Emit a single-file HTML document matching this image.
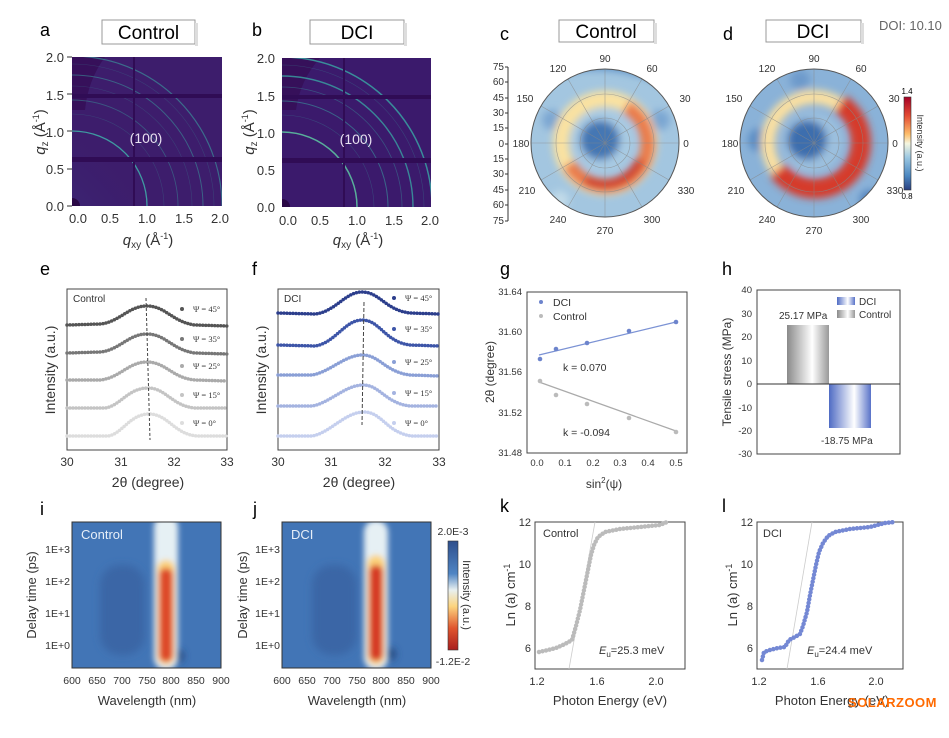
<!DOCTYPE html>
<html><head><meta charset="utf-8"><style>
html,body{margin:0;padding:0;background:#fff;}
svg{display:block;font-family:"Liberation Sans",Arial,sans-serif;}
</style></head><body>
<svg width="949" height="738" viewBox="0 0 949 738" xmlns="http://www.w3.org/2000/svg">
<defs>
<filter id="bl" x="-20%" y="-20%" width="140%" height="140%"><feGaussianBlur stdDeviation="4"/></filter>
<filter id="bl2" x="-50%" y="-50%" width="200%" height="200%"><feGaussianBlur stdDeviation="3"/></filter>
<clipPath id="cc"><circle cx="605" cy="143" r="74"/></clipPath>
<clipPath id="cd"><circle cx="814" cy="143" r="74"/></clipPath>
<clipPath id="ca"><rect x="72" y="57" width="150" height="149"/></clipPath>
<clipPath id="cb"><rect x="282" y="58" width="149" height="149"/></clipPath>
<clipPath id="ci"><rect x="72" y="522" width="149" height="146"/></clipPath>
<clipPath id="cj"><rect x="282" y="522" width="149" height="146"/></clipPath>
<radialGradient id="glowa" cx="0" cy="1" r="1"><stop offset="0" stop-color="#3c5a98"/><stop offset="0.6" stop-color="#3a2f7c"/><stop offset="1" stop-color="#3b1f6e" stop-opacity="0"/></radialGradient>
<linearGradient id="cbar" x1="0" y1="0" x2="0" y2="1"><stop offset="0" stop-color="#a50026"/><stop offset="0.2" stop-color="#e34a33"/><stop offset="0.4" stop-color="#fdbe6b"/><stop offset="0.5" stop-color="#f5f6e0"/><stop offset="0.65" stop-color="#9cc8e2"/><stop offset="0.85" stop-color="#4a86c0"/><stop offset="1" stop-color="#283f80"/></linearGradient>
<linearGradient id="cbar2" x1="0" y1="0" x2="0" y2="1"><stop offset="0" stop-color="#2e4f8c"/><stop offset="0.3" stop-color="#4f85c4"/><stop offset="0.45" stop-color="#e8f0f0"/><stop offset="0.6" stop-color="#fcd47e"/><stop offset="0.8" stop-color="#e0552e"/><stop offset="1" stop-color="#a81e1e"/></linearGradient>
<linearGradient id="gbar" x1="0" y1="0" x2="1" y2="0"><stop offset="0" stop-color="#8a8a8a"/><stop offset="0.6" stop-color="#fff"/><stop offset="1" stop-color="#999"/></linearGradient>
<linearGradient id="bbar" x1="0" y1="0" x2="1" y2="0"><stop offset="0" stop-color="#4f6bc4"/><stop offset="0.6" stop-color="#fff"/><stop offset="1" stop-color="#5872c8"/></linearGradient>
</defs>

<!-- ===== a ===== -->
<text x="40" y="36" font-size="18">a</text>
<rect x="102" y="20" width="93" height="24" fill="#fff" stroke="#999" stroke-width="1"/>
<rect x="195" y="23" width="3" height="23" fill="#ddd"/>
<text x="148.5" y="39" font-size="19" text-anchor="middle">Control</text>
<g clip-path="url(#ca)">
<rect x="72" y="57" width="150" height="149" fill="#3d1d6c"/>
<circle cx="72" cy="206" r="110" fill="url(#glowa)" opacity="0.7"/>
<path d="M72 57 L105 57 Q88 80 85 110 L72 110Z" fill="#36105a"/>
<g fill="none" stroke="#3a8f98">
<circle cx="72" cy="206" r="75" stroke-width="1.3" stroke="#3fb0aa" opacity="0.85"/>
<circle cx="72" cy="206" r="106" stroke-width="0.9" opacity="0.5"/>
<circle cx="72" cy="206" r="131" stroke-width="1" opacity="0.6"/>
<circle cx="72" cy="206" r="150" stroke-width="1.2" opacity="0.7"/>
<circle cx="72" cy="206" r="92" stroke-width="0.6" opacity="0.3"/>
<circle cx="72" cy="206" r="120" stroke-width="0.6" opacity="0.3"/>
<circle cx="72" cy="206" r="142" stroke-width="0.6" opacity="0.3"/>
</g>
<rect x="72" y="157" width="150" height="5" fill="#300c55"/>
<rect x="72" y="94" width="150" height="4" fill="#300c55"/>
<rect x="133" y="57" width="2" height="149" fill="#300c55"/>
<circle cx="72" cy="206" r="8" fill="#2a0845"/>
</g>
<text x="146" y="143" font-size="14" fill="#e8e0f0" text-anchor="middle">(100)</text>
<g font-size="13" fill="#333" text-anchor="end">
<text x="64" y="62">2.0</text><text x="64" y="100">1.5</text><text x="64" y="137">1.0</text><text x="64" y="174">0.5</text><text x="64" y="211">0.0</text></g>
<g stroke="#333"><line x1="67" y1="57" x2="72" y2="57"/><line x1="67" y1="94" x2="72" y2="94"/><line x1="67" y1="131" x2="72" y2="131"/><line x1="67" y1="169" x2="72" y2="169"/><line x1="67" y1="206" x2="72" y2="206"/></g>
<g font-size="13" fill="#333" text-anchor="middle">
<text x="78" y="223">0.0</text><text x="110" y="223">0.5</text><text x="147" y="223">1.0</text><text x="184" y="223">1.5</text><text x="220" y="223">2.0</text></g>
<text x="148" y="245" font-size="15" text-anchor="middle" fill="#333"><tspan font-style="italic">q</tspan><tspan font-size="10" dy="3">xy</tspan><tspan dy="-3"> (Å</tspan><tspan font-size="9" dy="-6">-1</tspan><tspan dy="6">)</tspan></text>
<text transform="translate(45,132) rotate(-90)" font-size="15" text-anchor="middle" fill="#333"><tspan font-style="italic">q</tspan><tspan font-size="10" dy="3">z</tspan><tspan dy="-3"> (Å</tspan><tspan font-size="9" dy="-6">-1</tspan><tspan dy="6">)</tspan></text>

<!-- ===== b ===== -->
<text x="252" y="36" font-size="18">b</text>
<rect x="310" y="20" width="94" height="24" fill="#fff" stroke="#999"/>
<rect x="404" y="23" width="3" height="23" fill="#ddd"/>
<text x="357" y="39" font-size="19" text-anchor="middle">DCI</text>
<g clip-path="url(#cb)">
<rect x="282" y="58" width="149" height="149" fill="#3b1a6c"/>
<path d="M282 58 L320 58 Q300 80 296 110 L282 110Z" fill="#36105a"/>
<g fill="none" stroke="#3aa2a2">
<circle cx="282" cy="207" r="75" stroke-width="1.5" stroke="#5cc0a0" opacity="0.9"/>
<circle cx="282" cy="207" r="106" stroke-width="1" opacity="0.55"/>
<circle cx="282" cy="207" r="131" stroke-width="1.4" opacity="0.8"/>
<circle cx="282" cy="207" r="150" stroke-width="1.5" opacity="0.85"/>
<circle cx="282" cy="207" r="92" stroke-width="0.6" opacity="0.3"/>
<circle cx="282" cy="207" r="120" stroke-width="0.8" opacity="0.4"/>
<circle cx="282" cy="207" r="142" stroke-width="0.6" opacity="0.3"/>
</g>
<rect x="282" y="158" width="149" height="5" fill="#300c55"/>
<rect x="282" y="95" width="149" height="4" fill="#300c55"/>
<rect x="343" y="58" width="2" height="149" fill="#300c55"/>
<circle cx="282" cy="207" r="8" fill="#2a0845"/>
</g>
<text x="356" y="144" font-size="14" fill="#e8e0f0" text-anchor="middle">(100)</text>
<g font-size="13" fill="#333" text-anchor="end">
<text x="275" y="63">2.0</text><text x="275" y="101">1.5</text><text x="275" y="138">1.0</text><text x="275" y="175">0.5</text><text x="275" y="212">0.0</text></g>
<g font-size="13" fill="#333" text-anchor="middle">
<text x="288" y="225">0.0</text><text x="320" y="225">0.5</text><text x="357" y="225">1.0</text><text x="394" y="225">1.5</text><text x="430" y="225">2.0</text></g>
<text x="358" y="245" font-size="15" text-anchor="middle" fill="#333"><tspan font-style="italic">q</tspan><tspan font-size="10" dy="3">xy</tspan><tspan dy="-3"> (Å</tspan><tspan font-size="9" dy="-6">-1</tspan><tspan dy="6">)</tspan></text>
<text transform="translate(254,132) rotate(-90)" font-size="15" text-anchor="middle" fill="#333"><tspan font-style="italic">q</tspan><tspan font-size="10" dy="3">z</tspan><tspan dy="-3"> (Å</tspan><tspan font-size="9" dy="-6">-1</tspan><tspan dy="6">)</tspan></text>

<!-- ===== c ===== -->
<text x="500" y="40" font-size="18">c</text>
<rect x="559" y="20" width="95" height="22" fill="#fff" stroke="#999"/>
<rect x="654" y="23" width="3" height="21" fill="#ddd"/>
<text x="606" y="38" font-size="19" text-anchor="middle">Control</text>
<g clip-path="url(#cc)">
<circle cx="605" cy="143" r="74" fill="#a3c6e0"/>
<g filter="url(#bl)">
<path d="M540 80 Q605 55 675 90 L680 60 L530 60Z" fill="#5a8fc6"/>
<circle cx="552" cy="120" r="10" fill="#7aa6d2"/><circle cx="660" cy="120" r="10" fill="#7aa6d2"/><circle cx="560" cy="200" r="9" fill="#c2dbe9"/>
<circle cx="605" cy="143" r="44" fill="none" stroke="#fbe2a0" stroke-width="16"/>
<path d="M626 107 A42 42 0 1 1 569 164" fill="none" stroke="#eb7a48" stroke-width="14"/>
<path d="M640 160 A40 40 0 0 1 585 180" fill="none" stroke="#cf3a2c" stroke-width="9"/>
<circle cx="603" cy="140" r="30" fill="#a9cbe3"/>
<circle cx="600" cy="140" r="20" fill="#4477b4"/>
</g>
<g fill="none" stroke="#888" stroke-width="0.6" opacity="0.7">
<circle cx="605" cy="143" r="25"/><circle cx="605" cy="143" r="49"/>
<line x1="531" y1="143" x2="679" y2="143"/><line x1="605" y1="69" x2="605" y2="217"/>
<line x1="541" y1="106" x2="669" y2="180"/><line x1="541" y1="180" x2="669" y2="106"/>
<line x1="568" y1="79" x2="642" y2="207"/><line x1="568" y1="207" x2="642" y2="79"/>
</g>
</g>
<circle cx="605" cy="143" r="74" fill="none" stroke="#555" stroke-width="1"/>
<g font-size="10" fill="#333" text-anchor="middle">
<text x="605" y="62">90</text><text x="652" y="72">60</text><text x="685" y="102">30</text><text x="686" y="147">0</text><text x="686" y="194">330</text><text x="652" y="223">300</text><text x="605" y="234">270</text><text x="558" y="223">240</text><text x="527" y="194">210</text><text x="521" y="147">180</text><text x="525" y="102">150</text><text x="558" y="72">120</text></g>
<line x1="508" y1="67" x2="508" y2="221" stroke="#333"/>
<g font-size="10" fill="#333" text-anchor="end">
<text x="504" y="70">75</text><text x="504" y="85">60</text><text x="504" y="101">45</text><text x="504" y="116">30</text><text x="504" y="131">15</text><text x="504" y="147">0</text><text x="504" y="162">15</text><text x="504" y="177">30</text><text x="504" y="193">45</text><text x="504" y="208">60</text><text x="504" y="224">75</text></g>
<g stroke="#333"><line x1="505" y1="67" x2="508" y2="67"/><line x1="505" y1="82" x2="508" y2="82"/><line x1="505" y1="98" x2="508" y2="98"/><line x1="505" y1="113" x2="508" y2="113"/><line x1="505" y1="128" x2="508" y2="128"/><line x1="505" y1="144" x2="508" y2="144"/><line x1="505" y1="159" x2="508" y2="159"/><line x1="505" y1="174" x2="508" y2="174"/><line x1="505" y1="190" x2="508" y2="190"/><line x1="505" y1="205" x2="508" y2="205"/><line x1="505" y1="221" x2="508" y2="221"/></g>

<!-- ===== d ===== -->
<text x="723" y="40" font-size="18">d</text>
<rect x="766" y="20" width="95" height="22" fill="#fff" stroke="#999"/>
<rect x="861" y="23" width="3" height="21" fill="#ddd"/>
<text x="813" y="38" font-size="19" text-anchor="middle">DCI</text>
<text x="879" y="30" font-size="13" fill="#666">DOI: 10.10</text>
<g clip-path="url(#cd)">
<circle cx="814" cy="143" r="74" fill="#8ab2d8"/>
<g filter="url(#bl)">
<circle cx="760" cy="140" r="12" fill="#5a8cc4"/><circle cx="800" cy="80" r="10" fill="#6d9acb"/><circle cx="870" cy="200" r="10" fill="#4f80bd"/>
<circle cx="814" cy="143" r="46" fill="none" stroke="#fbe0a0" stroke-width="14"/>
<path d="M840 104 A46 46 0 1 1 778 170" fill="none" stroke="#d63b2c" stroke-width="20"/>
<circle cx="812" cy="142" r="31" fill="#9cc0de"/>
<circle cx="807" cy="140" r="20" fill="#3d6eae"/>
</g>
<g fill="none" stroke="#888" stroke-width="0.6" opacity="0.7">
<circle cx="814" cy="143" r="25"/><circle cx="814" cy="143" r="49"/>
<line x1="740" y1="143" x2="888" y2="143"/><line x1="814" y1="69" x2="814" y2="217"/>
<line x1="750" y1="106" x2="878" y2="180"/><line x1="750" y1="180" x2="878" y2="106"/>
<line x1="777" y1="79" x2="851" y2="207"/><line x1="777" y1="207" x2="851" y2="79"/>
</g>
</g>
<circle cx="814" cy="143" r="74" fill="none" stroke="#555" stroke-width="1"/>
<g font-size="10" fill="#333" text-anchor="middle">
<text x="814" y="62">90</text><text x="861" y="72">60</text><text x="894" y="102">30</text><text x="895" y="147">0</text><text x="895" y="194">330</text><text x="861" y="223">300</text><text x="814" y="234">270</text><text x="767" y="223">240</text><text x="736" y="194">210</text><text x="730" y="147">180</text><text x="734" y="102">150</text><text x="767" y="72">120</text></g>
<rect x="904" y="97" width="7" height="93" fill="url(#cbar)" stroke="#333" stroke-width="0.6"/>
<text x="907" y="94" font-size="8" text-anchor="middle">1.4</text>
<text x="907" y="199" font-size="8" text-anchor="middle">0.8</text>
<text transform="translate(917,143) rotate(90)" font-size="9" text-anchor="middle" fill="#333">Intensity (a.u.)</text>

<!-- ===== e ===== -->
<text x="40" y="275" font-size="18">e</text>
<rect x="67" y="289" width="160" height="161" fill="none" stroke="#444" stroke-width="1"/>
<text x="73" y="302" font-size="10" fill="#333">Control</text>
<g fill="none" stroke-width="3.5" stroke-linecap="round" stroke-dasharray="0 3">
<path d="M67 325 L100 324 C120 322 128 306 147 306 C166 306 172 322 195 325 L227 326" stroke="#555"/>
<path d="M67 353 L100 352 C120 350 128 334 147 334 C166 334 172 350 195 353 L227 354" stroke="#777"/>
<path d="M67 380 L100 380 C120 378 128 362 147 362 C166 362 172 378 195 380 L227 381" stroke="#aaa"/>
<path d="M67 408 L105 408 C120 406 128 388 148 388 C166 388 172 406 195 408 L227 408" stroke="#c4c4c4"/>
<path d="M67 436 L108 436 C122 434 130 414 149 414 C168 414 174 434 197 436 L227 436" stroke="#ddd"/>
</g>
<line x1="146" y1="298" x2="150" y2="440" stroke="#444" stroke-dasharray="3 2"/>
<g font-size="8.5" fill="#333" font-family="Liberation Serif,serif">
<circle cx="182" cy="309" r="2" fill="#555"/><text x="193" y="312">Ψ = 45°</text>
<circle cx="182" cy="339" r="2" fill="#777"/><text x="193" y="342">Ψ = 35°</text>
<circle cx="182" cy="366" r="2" fill="#aaa"/><text x="193" y="369">Ψ = 25°</text>
<circle cx="182" cy="395" r="2" fill="#c4c4c4"/><text x="193" y="398">Ψ = 15°</text>
<circle cx="182" cy="423" r="2" fill="#ddd"/><text x="193" y="426">Ψ = 0°</text></g>
<g font-size="12" fill="#333" text-anchor="middle"><text x="67" y="466">30</text><text x="121" y="466">31</text><text x="174" y="466">32</text><text x="227" y="466">33</text></g>
<text x="148" y="487" font-size="14" text-anchor="middle" fill="#333">2θ (degree)</text>
<text transform="translate(55,370) rotate(-90)" font-size="14" text-anchor="middle" fill="#333">Intensity (a.u.)</text>

<!-- ===== f ===== -->
<text x="252" y="275" font-size="18">f</text>
<rect x="278" y="289" width="161" height="161" fill="none" stroke="#444"/>
<text x="284" y="302" font-size="10" fill="#333">DCI</text>
<g fill="none" stroke-width="3.5" stroke-linecap="round" stroke-dasharray="0 3">
<path d="M278 313 L315 314 C335 312 345 292 362 292 C380 292 385 310 410 313 L439 314" stroke="#2c3e8c"/>
<path d="M278 345 L315 346 C335 343 345 320 362 320 C380 320 385 342 410 345 L439 346" stroke="#3d55a8"/>
<path d="M278 375 L312 375 C330 372 345 355 362 355 C380 355 385 372 410 375 L439 376" stroke="#8a9fd6"/>
<path d="M278 406 L312 406 C330 403 345 385 363 385 C380 385 385 403 410 406 L439 406" stroke="#a4b3e0"/>
<path d="M278 436 L312 436 C330 433 345 412 364 412 C382 412 387 433 412 436 L439 436" stroke="#c5cfee"/>
</g>
<line x1="364" y1="302" x2="362" y2="425" stroke="#444" stroke-dasharray="4 2"/>
<g font-size="8.5" fill="#333" font-family="Liberation Serif,serif">
<circle cx="394" cy="298" r="2" fill="#2c3e8c"/><text x="405" y="301">Ψ = 45°</text>
<circle cx="394" cy="329" r="2" fill="#3d55a8"/><text x="405" y="332">Ψ = 35°</text>
<circle cx="394" cy="362" r="2" fill="#8a9fd6"/><text x="405" y="365">Ψ = 25°</text>
<circle cx="394" cy="393" r="2" fill="#a4b3e0"/><text x="405" y="396">Ψ = 15°</text>
<circle cx="394" cy="423" r="2" fill="#c5cfee"/><text x="405" y="426">Ψ = 0°</text></g>
<g font-size="12" fill="#333" text-anchor="middle"><text x="278" y="466">30</text><text x="331" y="466">31</text><text x="385" y="466">32</text><text x="439" y="466">33</text></g>
<text x="359" y="487" font-size="14" text-anchor="middle" fill="#333">2θ (degree)</text>
<text transform="translate(266,370) rotate(-90)" font-size="14" text-anchor="middle" fill="#333">Intensity (a.u.)</text>

<!-- ===== g ===== -->
<text x="500" y="275" font-size="18">g</text>
<rect x="527" y="292" width="160" height="161" fill="none" stroke="#444"/>
<g font-size="9.5" fill="#333" text-anchor="end"><text x="522" y="295">31.64</text><text x="522" y="335">31.60</text><text x="522" y="375">31.56</text><text x="522" y="416">31.52</text><text x="522" y="456">31.48</text></g>
<g font-size="9.5" fill="#333" text-anchor="middle"><text x="537" y="466">0.0</text><text x="565" y="466">0.1</text><text x="593" y="466">0.2</text><text x="620" y="466">0.3</text><text x="648" y="466">0.4</text><text x="676" y="466">0.5</text></g>
<text x="604" y="488" font-size="12" text-anchor="middle" fill="#333">sin<tspan font-size="8" dy="-5">2</tspan><tspan dy="5">(ψ)</tspan></text>
<text transform="translate(494,372) rotate(-90)" font-size="12" text-anchor="middle" fill="#333">2θ (degree)</text>
<line x1="539" y1="355" x2="676" y2="322" stroke="#7b92d4" stroke-width="1.2"/>
<line x1="539" y1="382" x2="676" y2="431" stroke="#aaa" stroke-width="1.2"/>
<g fill="#6d84cc"><circle cx="540" cy="359" r="2.3"/><circle cx="556" cy="349" r="2.3"/><circle cx="587" cy="343" r="2.3"/><circle cx="629" cy="331" r="2.3"/><circle cx="676" cy="322" r="2.3"/></g>
<g fill="#bbb"><circle cx="540" cy="381" r="2.3"/><circle cx="556" cy="395" r="2.3"/><circle cx="587" cy="404" r="2.3"/><circle cx="629" cy="418" r="2.3"/><circle cx="676" cy="432" r="2.3"/></g>
<circle cx="541" cy="302" r="2" fill="#6d84cc"/><text x="553" y="306" font-size="10.5" fill="#333">DCI</text>
<circle cx="541" cy="316" r="2" fill="#bbb"/><text x="553" y="320" font-size="10.5" fill="#333">Control</text>
<text x="563" y="371" font-size="10.5" fill="#333">k = 0.070</text>
<text x="563" y="436" font-size="10.5" fill="#333">k = -0.094</text>

<!-- ===== h ===== -->
<text x="722" y="275" font-size="18">h</text>
<rect x="757" y="290" width="143" height="164" fill="none" stroke="#444"/>
<g font-size="9.5" fill="#333" text-anchor="end"><text x="752" y="293">40</text><text x="752" y="317">30</text><text x="752" y="340">20</text><text x="752" y="364">10</text><text x="752" y="387">0</text><text x="752" y="411">-10</text><text x="752" y="434">-20</text><text x="752" y="457">-30</text></g>
<text transform="translate(731,372) rotate(-90)" font-size="12" text-anchor="middle" fill="#333">Tensile stress (MPa)</text>
<rect x="787" y="325" width="42" height="59" fill="url(#gbar)"/>
<rect x="829" y="384" width="42" height="44" fill="url(#bbar)"/>
<line x1="757" y1="384" x2="900" y2="384" stroke="#333" stroke-width="1"/>
<text x="779" y="319" font-size="10" fill="#333">25.17 MPa</text>
<text x="821" y="444" font-size="10" fill="#333">-18.75 MPa</text>
<rect x="837" y="297" width="18" height="8" fill="url(#bbar)"/><text x="859" y="305" font-size="10" fill="#333">DCI</text>
<rect x="837" y="310" width="18" height="8" fill="url(#gbar)"/><text x="859" y="318" font-size="10" fill="#333">Control</text>

<!-- ===== i ===== -->
<text x="40" y="515" font-size="18">i</text>
<g clip-path="url(#ci)">
<rect x="72" y="522" width="149" height="146" fill="#4275b6"/>
<g filter="url(#bl)"><rect x="100" y="565" width="45" height="90" rx="20" fill="#3a66a6"/><circle cx="178" cy="656" r="6" fill="#23457a"/></g>
<g filter="url(#bl2)"><rect x="154" y="515" width="24" height="155" rx="12" fill="#e6f0f4"/><rect x="157" y="560" width="18" height="105" rx="9" fill="#fbd27a"/><rect x="159" y="568" width="14" height="94" rx="7" fill="#dd4a2a"/></g>
</g>
<rect x="72" y="522" width="149" height="146" fill="none" stroke="#333"/>
<text x="81" y="539" font-size="13" fill="#e6eef8">Control</text>
<g font-size="10.5" fill="#333" text-anchor="end"><text x="70" y="553">1E+3</text><text x="70" y="585">1E+2</text><text x="70" y="617">1E+1</text><text x="70" y="649">1E+0</text></g>
<g font-size="10.5" fill="#333" text-anchor="middle"><text x="72" y="684">600</text><text x="97" y="684">650</text><text x="122" y="684">700</text><text x="147" y="684">750</text><text x="171" y="684">800</text><text x="196" y="684">850</text><text x="221" y="684">900</text></g>
<text x="147" y="705" font-size="13" text-anchor="middle" fill="#333">Wavelength (nm)</text>
<text transform="translate(36,595) rotate(-90)" font-size="13" text-anchor="middle" fill="#333">Delay time (ps)</text>

<!-- ===== j ===== -->
<text x="253" y="515" font-size="18">j</text>
<g clip-path="url(#cj)">
<rect x="282" y="522" width="149" height="146" fill="#4275b6"/>
<g filter="url(#bl)"><rect x="312" y="565" width="45" height="90" rx="20" fill="#3a66a6"/><circle cx="390" cy="654" r="6" fill="#23457a"/></g>
<g filter="url(#bl2)"><rect x="364" y="520" width="24" height="150" rx="12" fill="#e6f0f4"/><rect x="367" y="555" width="18" height="110" rx="9" fill="#fbd27a"/><rect x="369" y="565" width="14" height="96" rx="7" fill="#d63a26"/></g>
</g>
<rect x="282" y="522" width="149" height="146" fill="none" stroke="#333"/>
<text x="291" y="539" font-size="13" fill="#e6eef8">DCI</text>
<g font-size="10.5" fill="#333" text-anchor="end"><text x="280" y="553">1E+3</text><text x="280" y="585">1E+2</text><text x="280" y="617">1E+1</text><text x="280" y="649">1E+0</text></g>
<g font-size="10.5" fill="#333" text-anchor="middle"><text x="282" y="684">600</text><text x="307" y="684">650</text><text x="332" y="684">700</text><text x="357" y="684">750</text><text x="381" y="684">800</text><text x="406" y="684">850</text><text x="431" y="684">900</text></g>
<text x="357" y="705" font-size="13" text-anchor="middle" fill="#333">Wavelength (nm)</text>
<text transform="translate(247,595) rotate(-90)" font-size="13" text-anchor="middle" fill="#333">Delay time (ps)</text>
<rect x="448" y="541" width="10" height="109" fill="url(#cbar2)" stroke="#333" stroke-width="0.6"/>
<text x="453" y="535" font-size="10.5" text-anchor="middle" fill="#333">2.0E-3</text>
<text x="453" y="665" font-size="10.5" text-anchor="middle" fill="#333">-1.2E-2</text>
<text transform="translate(463,595) rotate(90)" font-size="11" text-anchor="middle" fill="#333">Intensity (a.u.)</text>

<!-- ===== k ===== -->
<text x="500" y="512" font-size="18">k</text>
<rect x="535" y="522" width="150" height="147" fill="none" stroke="#444"/>
<g font-size="11" fill="#333" text-anchor="end"><text x="531" y="526">12</text><text x="531" y="568">10</text><text x="531" y="610">8</text><text x="531" y="652">6</text></g>
<g font-size="11" fill="#333" text-anchor="middle"><text x="537" y="685">1.2</text><text x="597" y="685">1.6</text><text x="656" y="685">2.0</text></g>
<text x="610" y="705" font-size="13" text-anchor="middle" fill="#333">Photon Energy (eV)</text>
<text transform="translate(515,595) rotate(-90)" font-size="13" text-anchor="middle" fill="#333">Ln (a) cm<tspan font-size="9" dy="-5">-1</tspan></text>
<line x1="569" y1="669" x2="595" y2="522" stroke="#ccc" stroke-width="0.8"/>
<path d="M539 652 L548 650 L556 648 L565 644 L572 640 L576 626 L580 610 L584 590 L588 570 L591 555 L594 545 L598 537 L605 532 L620 529 L640 527 L660 525 L667 522" fill="none" stroke="#bbb" stroke-width="4.5" stroke-linecap="round" stroke-dasharray="0 3.6"/>
<text x="599" y="654" font-size="11" fill="#333"><tspan font-style="italic">E</tspan><tspan font-size="8" dy="3">u</tspan><tspan dy="-3">=25.3 meV</tspan></text>
<text x="543" y="537" font-size="11" fill="#333">Control</text>

<!-- ===== l ===== -->
<text x="722" y="512" font-size="18">l</text>
<rect x="757" y="522" width="146" height="147" fill="none" stroke="#444"/>
<g font-size="11" fill="#333" text-anchor="end"><text x="753" y="526">12</text><text x="753" y="568">10</text><text x="753" y="610">8</text><text x="753" y="652">6</text></g>
<g font-size="11" fill="#333" text-anchor="middle"><text x="759" y="685">1.2</text><text x="818" y="685">1.6</text><text x="876" y="685">2.0</text></g>
<text x="832" y="705" font-size="13" text-anchor="middle" fill="#333">Photon Energy (eV)</text>
<text transform="translate(737,595) rotate(-90)" font-size="13" text-anchor="middle" fill="#333">Ln (a) cm<tspan font-size="9" dy="-5">-1</tspan></text>
<line x1="787" y1="669" x2="812" y2="522" stroke="#ccc" stroke-width="0.8"/>
<path d="M762 660 L764 652 L770 650 L778 648 L785 647 L789 640 L795 637 L800 634 L803 626 L807 612 L810 595 L813 580 L816 565 L819 552 L823 543 L828 536 L835 532 L850 529 L870 527 L885 523 L895 522" fill="none" stroke="#7488d4" stroke-width="4.5" stroke-linecap="round" stroke-dasharray="0 3.6"/>
<text x="807" y="654" font-size="11" fill="#333"><tspan font-style="italic">E</tspan><tspan font-size="8" dy="3">u</tspan><tspan dy="-3">=24.4 meV</tspan></text>
<text x="763" y="537" font-size="11" fill="#333">DCI</text>
<text x="848" y="707" font-size="13" fill="#ff6a00" font-weight="bold" letter-spacing="0.5">SOLARZOOM</text>
</svg>
</body></html>
